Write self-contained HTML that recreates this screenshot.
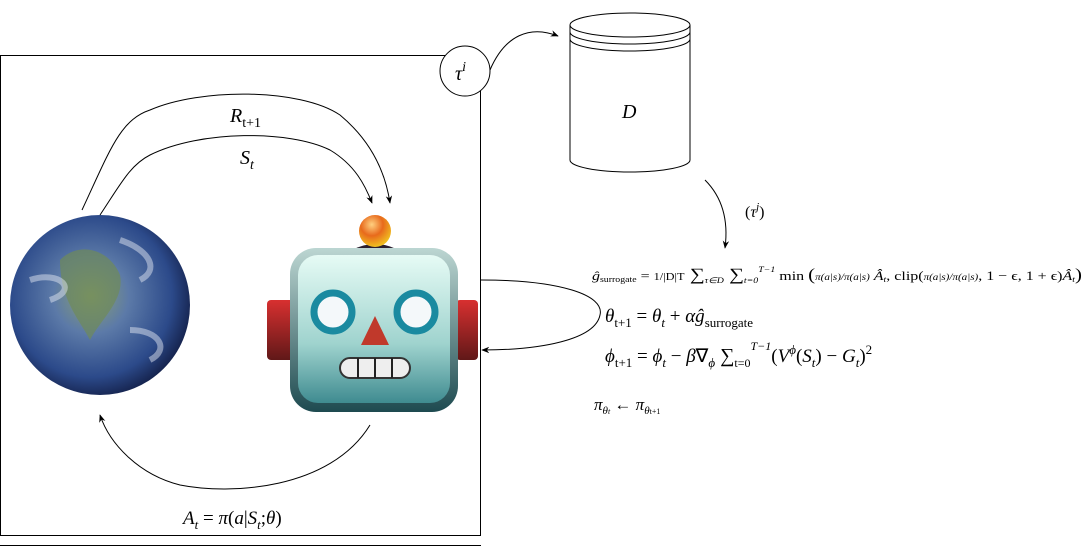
<!DOCTYPE html>
<html><head><meta charset="utf-8"><style>
html,body{margin:0;padding:0;background:#fff;width:1087px;height:547px;overflow:hidden}
svg text{font-family:"Liberation Serif",serif;font-style:italic;fill:#000}
.r{font-style:normal}
</style></head><body>
<svg width="1087" height="547" viewBox="0 0 1087 547" xmlns="http://www.w3.org/2000/svg">
<defs>
<marker id="ah" viewBox="0 0 10 10" refX="9" refY="5" markerWidth="8" markerHeight="8" orient="auto"><path d="M0,1 L10,5 L0,9 L3,5 z" fill="#000"/></marker>
<radialGradient id="earth" cx="0.45" cy="0.45" r="0.6"><stop offset="0" stop-color="#8aa070"/><stop offset="0.35" stop-color="#5c7aa8"/><stop offset="0.75" stop-color="#2c4a8a"/><stop offset="1" stop-color="#101a40"/></radialGradient>
<linearGradient id="face" x1="0" y1="0" x2="0" y2="1"><stop offset="0" stop-color="#e6fbf5"/><stop offset="0.6" stop-color="#9fd3ce"/><stop offset="1" stop-color="#3f8b90"/></linearGradient>
<linearGradient id="rim" x1="0" y1="0" x2="0" y2="1"><stop offset="0" stop-color="#bcd6d2"/><stop offset="1" stop-color="#1e4a50"/></linearGradient>
<radialGradient id="ball" cx="0.4" cy="0.3" r="0.7"><stop offset="0" stop-color="#ffd080"/><stop offset="0.5" stop-color="#e86a1c"/><stop offset="1" stop-color="#f0c020"/></radialGradient>
<linearGradient id="ear" x1="0" y1="0" x2="0" y2="1"><stop offset="0" stop-color="#d83030"/><stop offset="1" stop-color="#601818"/></linearGradient>
</defs>
<rect x="0.5" y="55.5" width="480" height="480" fill="none" stroke="#000"/>
<line x1="0" y1="545.5" x2="481" y2="545.5" stroke="#000"/>
<circle cx="465" cy="71" r="25" fill="#fff" stroke="#000"/>
<text x="455" y="80" font-size="20">τ<tspan dy="-9" font-size="14">i</tspan></text>
<path d="M490,70 C505,35 530,25 558,36" fill="none" stroke="#000" marker-end="url(#ah)"/>
<path d="M570,25 L570,160 A60,12 0 0 0 690,160 L690,25" fill="#fff" stroke="#000"/>
<ellipse cx="630" cy="25" rx="60" ry="12" fill="#fff" stroke="#000"/>
<path d="M570,32 A60,12 0 0 0 690,32 M570,39 A60,12 0 0 0 690,39" fill="none" stroke="#000"/>
<text x="622" y="118" font-size="20">D</text>
<path d="M705,180 C725,200 728,225 725,248" fill="none" stroke="#000" marker-end="url(#ah)"/>
<text x="745" y="217" font-size="16" class="r">(<tspan font-style="italic">τ</tspan><tspan dy="-7" font-size="11" font-style="italic">j</tspan><tspan dy="7">)</tspan></text>
<circle cx="100" cy="305" r="90" fill="url(#earth)"/>
<path d="M60,260 C80,240 110,250 120,275 C125,300 100,320 90,340 C80,320 60,300 60,260z" fill="#6f8a58" opacity="0.7"/>
<path d="M30,280 C60,270 80,290 50,300 M120,240 C150,250 160,270 140,280 M130,330 C160,330 170,350 150,360" stroke="#dde4f0" stroke-width="6" fill="none" opacity="0.5"/>
<path d="M82,210 C110,150 120,120 150,110 C200,88 300,88 340,115 C370,140 385,170 390,203" fill="none" stroke="#000" marker-end="url(#ah)"/>
<path d="M100,215 C120,185 130,165 150,155 C200,130 290,130 330,150 C355,165 365,185 372,203" fill="none" stroke="#000" marker-end="url(#ah)"/>
<text x="230" y="122" font-size="20">R<tspan dy="5" font-size="14" class="r">t+1</tspan></text>
<text x="240" y="164" font-size="20">S<tspan dy="5" font-size="14">t</tspan></text>
<path d="M370,425 C330,490 230,495 180,485 C140,475 110,445 100,415" fill="none" stroke="#000" marker-end="url(#ah)"/>
<text x="183" y="524" font-size="19">A<tspan dy="5" font-size="13">t</tspan><tspan dy="-5" class="r"> = </tspan>π<tspan class="r">(</tspan>a<tspan class="r">|</tspan>S<tspan dy="5" font-size="13">t</tspan><tspan dy="-5" class="r">;</tspan>θ<tspan class="r">)</tspan></text>
<rect x="267" y="300" width="28" height="60" rx="4" fill="url(#ear)"/>
<rect x="456" y="300" width="22" height="60" rx="4" fill="url(#ear)"/>
<path d="M352,250 Q375,238 398,250 L390,258 Q375,252 360,258z" fill="#2a2030"/>
<circle cx="375" cy="231" r="16" fill="url(#ball)"/>
<rect x="290" y="248" width="168" height="164" rx="26" fill="url(#rim)"/>
<rect x="298" y="255" width="152" height="148" rx="20" fill="url(#face)"/>
<circle cx="333" cy="312" r="19" fill="#f4f8fa" stroke="#1a8aa0" stroke-width="7"/>
<circle cx="416" cy="312" r="19" fill="#f4f8fa" stroke="#1a8aa0" stroke-width="7"/>
<path d="M375,316 L389,345 L361,345z" fill="#c0392b"/>
<rect x="340" y="358" width="70" height="20" rx="10" fill="#eee" stroke="#333" stroke-width="2"/>
<path d="M358,358 V378 M375,358 V378 M392,358 V378" stroke="#222" stroke-width="2"/>
<path d="M481,280 C560,280 605,295 600,315 C595,340 540,350 482,350" fill="none" stroke="#000" marker-end="url(#ah)"/>
<text x="592" y="280" font-size="13" textLength="490" lengthAdjust="spacingAndGlyphs">ĝ<tspan dy="2" font-size="8" class="r">surrogate</tspan><tspan dy="-2" class="r"> = </tspan><tspan class="r" font-size="10">1/|D|T</tspan><tspan class="r" font-size="17"> ∑</tspan><tspan font-size="8" dy="3">τ∈D</tspan><tspan class="r" font-size="17" dy="-3"> ∑</tspan><tspan font-size="8" dy="3">t=0</tspan><tspan font-size="8" dy="-11">T−1</tspan><tspan class="r" dy="8"> min </tspan><tspan class="r" font-size="17">(</tspan><tspan font-size="9">π(a|s)/π(a|s)</tspan> Â<tspan font-size="8" dy="2">t</tspan><tspan class="r" dy="-2">, clip(</tspan><tspan font-size="9">π(a|s)/π(a|s)</tspan><tspan class="r">, 1 − ϵ, 1 + ϵ)</tspan>Â<tspan font-size="8" dy="2">t</tspan><tspan class="r" font-size="17" dy="-2">)</tspan></text>
<text x="605" y="322" font-size="19">θ<tspan dy="5" font-size="13" class="r">t+1</tspan><tspan dy="-5" class="r"> = </tspan>θ<tspan dy="5" font-size="13">t</tspan><tspan dy="-5" class="r"> + </tspan>αĝ<tspan dy="5" font-size="13" class="r">surrogate</tspan></text>
<text x="605" y="362" font-size="19">ϕ<tspan dy="5" font-size="13" class="r">t+1</tspan><tspan dy="-5" class="r"> = </tspan>ϕ<tspan dy="5" font-size="13">t</tspan><tspan dy="-5" class="r"> − </tspan>β<tspan class="r">∇</tspan><tspan dy="5" font-size="13">ϕ</tspan><tspan dy="-5" class="r" font-size="20"> ∑</tspan><tspan font-size="12" dy="5" class="r">t=0</tspan><tspan font-size="12" dy="-17">T−1</tspan><tspan dy="12" class="r">(</tspan>V<tspan dy="-8" font-size="13">ϕ</tspan><tspan dy="8" class="r">(</tspan>S<tspan dy="5" font-size="13">t</tspan><tspan dy="-5" class="r">) − </tspan>G<tspan dy="5" font-size="13">t</tspan><tspan dy="-5" class="r">)</tspan><tspan dy="-8" font-size="13" class="r">2</tspan></text>
<text x="594" y="410" font-size="17">π<tspan dy="4" font-size="11">θ<tspan font-size="8">t</tspan></tspan><tspan dy="-4" class="r"> ← </tspan>π<tspan dy="4" font-size="11">θ<tspan font-size="8" class="r">t+1</tspan></tspan></text>
</svg>
</body></html>
